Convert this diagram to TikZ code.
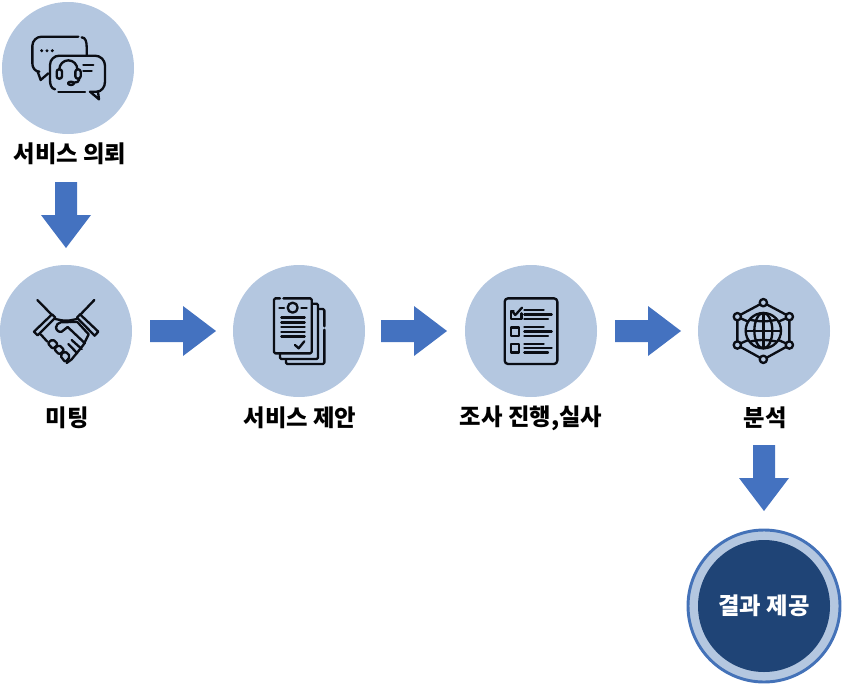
\documentclass[tikz,border=0pt]{standalone}
\usepackage{fontspec}
\setmainfont{Noto Sans CJK KR}
\definecolor{cLight}{HTML}{B4C7E0}
\definecolor{cArrow}{HTML}{4472C0}
\definecolor{cDark}{HTML}{1F4476}
\definecolor{cRing}{HTML}{4472B8}
\definecolor{cIcon}{HTML}{0A0D14}
\tikzset{
  stage/.style={circle,fill=cLight,inner sep=0pt,minimum size=132*0.75pt},
  label/.style={font=\fontsize{17.5pt}{20pt}\selectfont\bfseries,text=black,inner sep=0pt,anchor=center},
  blockarrow/.style={fill=cArrow,draw=none},
  icon/.style={draw=cIcon,line width=1.75pt,line cap=round,line join=round,fill=none},
  iconscale/.style={x=0.25pt,y=-0.25pt}
}
\newcommand{\arrowright}[1]{\fill[blockarrow] (#1) ++(0,-11) -- ++(33,0) -- ++(0,-14) -- ++(33,25) -- ++(-33,25) -- ++(0,-14) -- ++(-33,0) -- cycle;}
\newcommand{\arrowdown}[1]{\fill[blockarrow] (#1) ++(-11,0) -- ++(0,33) -- ++(-14,0) -- ++(25,33) -- ++(25,-33) -- ++(-14,0) -- ++(0,-33) -- cycle;}
\begin{document}
\begin{tikzpicture}[x=0.75pt,y=-0.75pt]
\useasboundingbox (0,0) rectangle (846,689);
% circles
\node[stage] (req) at (68,68) {};
\node[stage] (meet) at (66,331) {};
\node[stage] (prop) at (299,331) {};
\node[stage] (survey) at (531,331) {};
\node[stage] (analysis) at (764,331) {};
\node[circle,fill=cLight,draw=cRing,line width=2.2pt,inner sep=0pt,minimum size=152*0.75pt] (ring) at (764,606) {};
\node[circle,fill=cDark,inner sep=0pt,minimum size=132*0.75pt,text=white,font=\fontsize{17.5pt}{20pt}\selectfont\bfseries] (result) at (764,606) {결과 제공};
% labels
\node[label] (l1) at (70,154) {서비스 의뢰};
\node[label] (l2) at (67,418) {미팅};
\node[label] (l3) at (300,418) {서비스 제안};
\node[label] (l4) at (531,418) {조사 진행,실사};
\node[label] (l5) at (765,418) {분석};
% arrows
\coordinate (d1) at (66,182);
\coordinate (r1) at (150,331);
\coordinate (r2) at (381,331);
\coordinate (r3) at (615,331);
\coordinate (d2) at (764,445);
\arrowdown{d1}
\arrowright{r1}
\arrowright{r2}
\arrowright{r3}
\arrowdown{d2}
% icon 1: chat
\begin{scope}[shift={(0,0)},iconscale]
\draw[icon] (235,110) -- (125,110) to[out=180,in=90] (97,138) -- (97,190) to[out=270,in=180] (118,215) -- (113,215) -- (122,240) -- (145,220);
\draw[icon] (245,112) to[out=0,in=90] (260,140) -- (260,165);
\draw[icon] (165,268) to[out=170,in=270] (150,240) -- (150,195) to[out=90,in=180] (178,167) -- (285,167) to[out=0,in=90] (315,197) -- (315,245) to[out=270,in=0] (290,275) -- (270,275) -- (297,298) -- (294,275);
\draw[icon] (175,275) -- (255,275);
\fill[cIcon] (125,152) circle[radius=5] (141,152) circle[radius=5] (157,152) circle[radius=5];
\draw[icon] (178,208) arc[start angle=180,end angle=360,radius=27];
\draw[icon,rounded corners=1.8pt] (170,208) rectangle (186,236);
\draw[icon,rounded corners=1.8pt] (226,208) rectangle (242,236);
\draw[icon] (238,238) to[out=270,in=0] (222,248);
\draw[icon] (213,250) ellipse[x radius=9,y radius=5];
\draw[icon] (250,195) -- (280,195) (250,212) -- (275,212);
\end{scope}
% icon 2: handshake
\begin{scope}[shift={(0,265)},iconscale]
\draw[icon] (112,105) -- (156,150) (283,105) -- (240,150);
\draw[icon] (156,148) -- (102,200) -- (113,211) -- (166,158) -- cycle;
\draw[icon] (240,148) -- (295,200) -- (284,212) -- (231,158) -- cycle;
\draw[icon] (166,162) to[out=-10,in=180] (198,167) to[out=0,in=190] (231,162);
\draw[icon] (212,171) -- (182,172) to[out=200,in=90] (168,187) to[out=270,in=200] (185,200) -- (203,186) -- (255,235);
\draw[icon] (212,171) -- (232,171) -- (266,208) -- (250,240) -- (215,283) -- (200,294);
\draw[icon] (122,208) -- (142,230);
\draw[icon,rounded corners=1.5pt] (143,235) -- (158,222) -- (174,238) -- (159,252) -- cycle;
\draw[icon,rounded corners=1.5pt] (162,252) -- (177,239) -- (193,255) -- (178,269) -- cycle;
\draw[icon,rounded corners=1.5pt] (180,271) -- (195,258) -- (211,274) -- (196,292) -- cycle;
\draw[icon] (205,237) -- (232,265) (215,225) -- (245,252);
\end{scope}
% icon 3: documents
\begin{scope}[shift={(230,265)},iconscale]
\draw[icon,rounded corners=1pt] (150,100) -- (132,100) -- (132,265) -- (245,265) -- (245,100) -- (160,100);
\draw[icon,rounded corners=1pt] (248,116) -- (264,116) -- (264,282) -- (150,282) -- (150,266);
\draw[icon,rounded corners=1pt] (266,132) -- (283,132) -- (283,184) (283,194) -- (283,297) -- (168,297) -- (168,283);
\draw[icon] (188,128) circle[radius=15];
\draw[icon] (148,128) -- (162,128) (214,128) -- (230,128);
\draw[icon] (154,157) -- (224,157) (154,172) -- (224,172) (154,186) -- (224,186) (154,200) -- (224,200) (154,214) -- (224,214);
\draw[icon] (195,240) -- (206,250) -- (223,229);
\end{scope}
% icon 4: checklist
\begin{scope}[shift={(462,265)},iconscale]
\draw[icon,rounded corners=2.5pt] (128,100) rectangle (286,297);
\draw[icon] (178,145) -- (178,162) -- (147,162) -- (147,138) -- (155,138);
\draw[icon] (150,138) -- (160,150) -- (180,128);
\draw[icon] (187,135) -- (245,135) (187,148) -- (269,148) (187,161) -- (258,161);
\draw[icon] (147,187) rectangle (171,212);
\draw[icon] (187,186) -- (245,186) (187,199) -- (269,199) (187,212) -- (258,212);
\draw[icon] (147,236) rectangle (171,262);
\draw[icon] (187,236) -- (245,236) (187,249) -- (269,249) (187,262) -- (258,262);
\end{scope}
% icon 5: network globe
\begin{scope}[shift={(695,265)},iconscale]
\draw[icon] (205,197) circle[radius=53];
\draw[icon] (205,197) ellipse[x radius=27,y radius=53];
\draw[icon] (205,144) -- (205,250) (152,197) -- (258,197);
\draw[icon] (164,164) to[bend right=12] (246,164);
\draw[icon] (164,230) to[bend left=12] (246,230);
\draw[icon] (205,113) circle[radius=11] (283,155) circle[radius=11] (283,240) circle[radius=11] (205,283) circle[radius=11] (127,240) circle[radius=11] (127,155) circle[radius=11];
\draw[icon] (215,118) -- (273,149) (283,166) -- (283,229) (273,246) -- (215,278) (195,278) -- (137,246) (127,229) -- (127,166) (137,149) -- (195,118);
\draw[icon] (137,160) -- (160,170) (273,160) -- (250,170) (137,235) -- (160,225) (273,235) -- (250,225);
\end{scope}
\end{tikzpicture}
\end{document}
